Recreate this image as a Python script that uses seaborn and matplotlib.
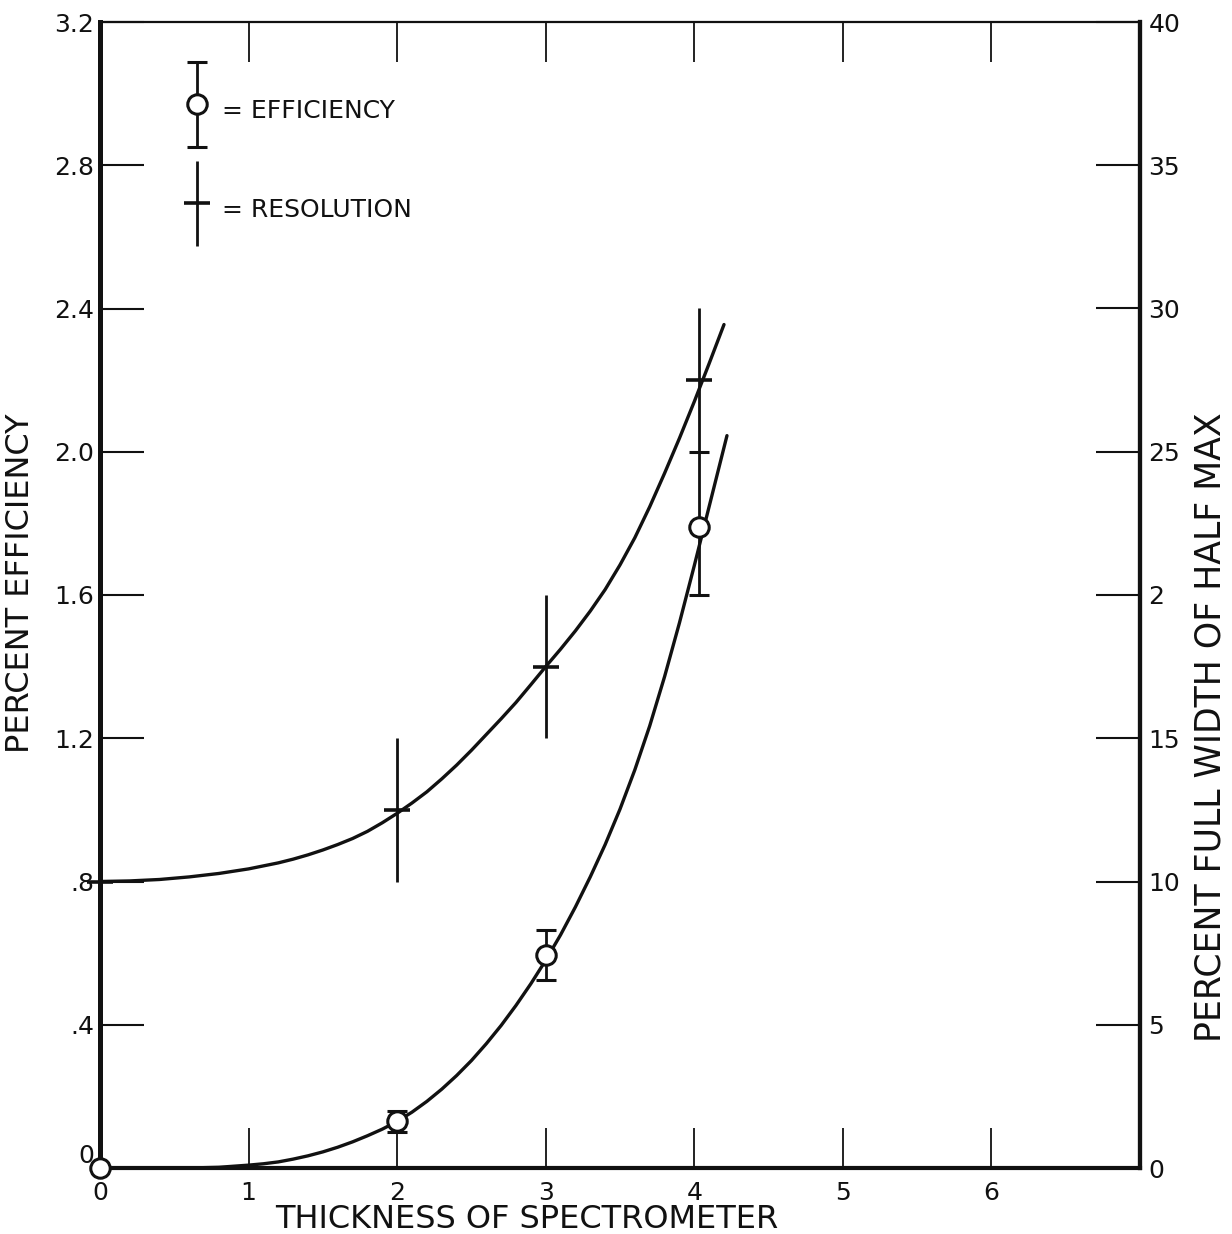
import numpy as np
import pandas as pd
import matplotlib
matplotlib.use("Agg")
import matplotlib.pyplot as plt
import seaborn as sns
from matplotlib.container import ErrorbarContainer
from matplotlib.legend_handler import HandlerErrorbar

# ---------------- data ----------------
thickness_eff = [0.0, 2.0, 3.0, 4.03]
efficiency = [0.0, 0.13, 0.595, 1.79]
eff_err_low = [0.0, 0.03, 0.07, 0.19]
eff_err_high = [0.0, 0.03, 0.07, 0.21]

thickness_res = [0.0, 2.0, 3.0, 4.03]
resolution = [10.0, 12.5, 17.5, 27.5]          # percent FWHM (right axis)
res_err = [2.5, 2.5, 2.5, 2.5]

# hand-drawn fitted curves, read along their length
eff_curve_x = [0.6, 0.8, 1.0, 1.1, 1.2, 1.3, 1.4, 1.5, 1.6, 1.7, 1.8, 1.9,
               2.0, 2.1, 2.2, 2.3, 2.4, 2.5, 2.6, 2.7, 2.8, 2.9, 3.0, 3.1,
               3.2, 3.3, 3.4, 3.5, 3.6, 3.7, 3.8, 3.9, 4.0, 4.11, 4.22]
eff_curve_y = [0.0, 0.002, 0.008, 0.0118, 0.017, 0.0248, 0.034, 0.045, 0.058,
               0.073, 0.09, 0.1085, 0.13, 0.156, 0.186, 0.220, 0.258, 0.300,
               0.347, 0.398, 0.454, 0.5145, 0.58, 0.651, 0.729, 0.813, 0.903,
               1.002, 1.112, 1.2345, 1.372, 1.522, 1.682, 1.8635, 2.045]

res_curve_x = [0.0, 0.2, 0.4, 0.6, 0.8, 1.0, 1.2, 1.3, 1.4, 1.5, 1.6, 1.7,
               1.8, 1.9, 2.0, 2.1, 2.2, 2.3, 2.4, 2.5, 2.6, 2.7, 2.8, 2.9,
               3.0, 3.1, 3.2, 3.3, 3.4, 3.5, 3.6, 3.7, 3.8, 3.9, 4.0, 4.1, 4.2]
res_curve_y = [10.0, 10.02, 10.07, 10.16, 10.28, 10.44, 10.65, 10.78, 10.93,
               11.1, 11.29, 11.5, 11.75, 12.05, 12.38, 12.74, 13.13, 13.58,
               14.06, 14.58, 15.13, 15.68, 16.25, 16.87, 17.5, 18.11, 18.75,
               19.44, 20.19, 21.05, 22.0, 23.08, 24.25, 25.47, 26.75, 28.08,
               29.44]

x_ticks = [0, 1, 2, 3, 4, 5, 6]
x_tick_labels = ["0", "1", "2", "3", "4", "5", "6"]
left_ticks = [0, 0.4, 0.8, 1.2, 1.6, 2.0, 2.4, 2.8, 3.2]
left_tick_labels = ["0", ".4", ".8", "1.2", "1.6", "2.0", "2.4", "2.8", "3.2"]
right_ticks = [0, 5, 10, 15, 20, 25, 30, 35, 40]
right_tick_labels = ["0", "5", "10", "15", "2", "25", "30", "35", "40"]

x_label = "THICKNESS OF SPECTROMETER"
left_label = "PERCENT EFFICIENCY"
right_label = "PERCENT FULL WIDTH OF HALF MAX"
legend_labels = ["= EFFICIENCY", "= RESOLUTION"]

# ---------------- style ----------------
sns.set_theme(style="ticks")
plt.rcParams["font.family"] = ["DejaVu Sans"]
plt.rcParams["axes.facecolor"] = "white"
plt.rcParams["figure.facecolor"] = "white"

fig = plt.figure(figsize=(12.32, 12.34), dpi=100)
ax = fig.add_axes([100 / 1232, 1 - 1168 / 1234, 1040 / 1232, 1146 / 1234])
ax2 = ax.twinx()

ink = "#111111"

# curves
sns.lineplot(x=eff_curve_x, y=eff_curve_y, ax=ax, color=ink, lw=2.4,
             sort=False, estimator=None)
sns.lineplot(x=res_curve_x, y=res_curve_y, ax=ax2, color=ink, lw=2.4,
             sort=False, estimator=None)

# efficiency points with error bars
h_eff = ax.errorbar(thickness_eff, efficiency, yerr=[eff_err_low, eff_err_high],
                    fmt="o", ms=14, mfc="white", mec=ink, mew=2.2,
                    ecolor=ink, elinewidth=2.0, capsize=7, capthick=2.2,
                    color=ink, clip_on=False, zorder=5)
# resolution crosses
h_res = ax2.errorbar(thickness_res, resolution, yerr=res_err,
                     fmt="_", ms=19, mew=2.6, color=ink,
                     ecolor=ink, elinewidth=2.0, capsize=0,
                     clip_on=False, zorder=5)

# axes limits / ticks
ax.set_xlim(0, 7)
ax.set_ylim(0, 3.2)
ax2.set_ylim(0, 40)

ax.set_xticks(x_ticks)
ax.set_xticklabels(x_tick_labels)
ax.set_yticks(left_ticks)
ax.set_yticklabels(left_tick_labels)
ax2.set_yticks(right_ticks)
ax2.set_yticklabels(right_tick_labels)

ax.tick_params(axis="x", direction="in", length=29, width=1.3, colors=ink,
               labelsize=18, pad=9, top=True, bottom=True)
ax.tick_params(axis="y", direction="in", length=32, width=1.5, colors=ink,
               labelsize=18, pad=4, left=True, right=False)
ax2.tick_params(axis="y", direction="in", length=32, width=1.5, colors=ink,
                labelsize=18, pad=6)
# lift the left "0" slightly so it clears the x-axis "0"
ax.get_yticklabels()[0].set_va("bottom")

for side, w in [("left", 3.6), ("bottom", 3.0), ("top", 1.6), ("right", 3.0)]:
    ax.spines[side].set_linewidth(w)
    ax.spines[side].set_color(ink)
for side in ["left", "bottom", "top"]:
    ax2.spines[side].set_visible(False)
ax2.spines["right"].set_linewidth(3.0)
ax2.spines["right"].set_color(ink)
ax.grid(False)
ax2.grid(False)

# axis labels
ax.set_xlabel(x_label, fontsize=23, color=ink)
ax.xaxis.set_label_coords(0.41, -0.031)
ax.set_ylabel(left_label, fontsize=23, color=ink)
ax.yaxis.set_label_coords(-0.062, 0.51)
ax2.set_ylabel(right_label, fontsize=25, color=ink)
ax2.yaxis.set_label_coords(1.051, 0.385)

# legend
leg = ax2.legend(handles=[h_eff, h_res], labels=legend_labels,
                 handler_map={ErrorbarContainer: HandlerErrorbar(yerr_size=1.7)},
                 loc="upper left", bbox_to_anchor=(0.079, 0.94),
                 frameon=False, fontsize=18, handlelength=1.2, handleheight=2.0,
                 handletextpad=0.4, labelspacing=2.4, numpoints=1,
                 borderpad=0, borderaxespad=0)
for t in leg.get_texts():
    t.set_color(ink)

fig.savefig("out.png", dpi=100, facecolor="white")
